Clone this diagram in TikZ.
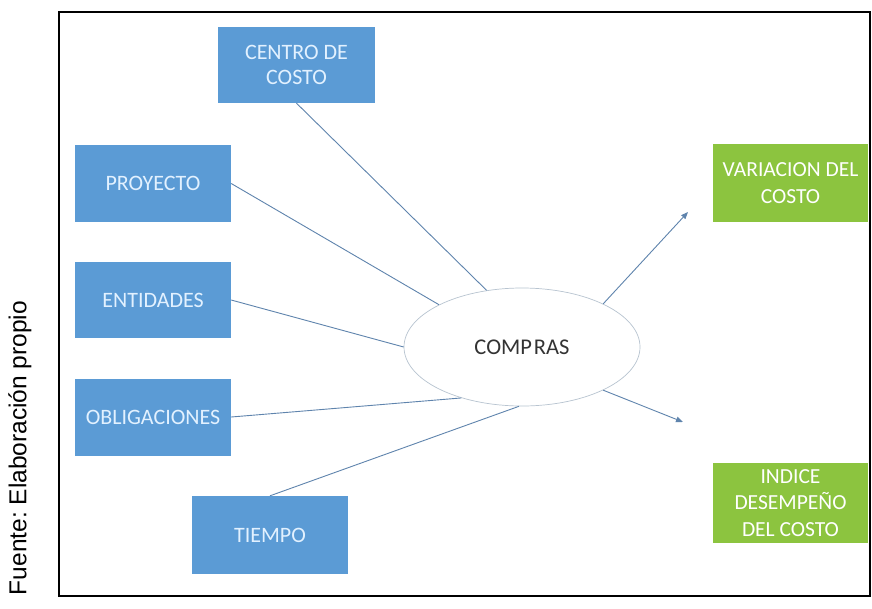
\documentclass[tikz,border=0pt]{standalone}
\usepackage{fontspec}
\setmainfont{Carlito}
\newfontfamily\arialfont{Liberation Sans}
\usetikzlibrary{arrows.meta,shapes.geometric}
\frenchspacing

\definecolor{boxblue}{HTML}{5B9BD5}
\definecolor{boxgreen}{HTML}{8CC43F}
\definecolor{bluetext}{HTML}{E2F1FF}
\definecolor{linkcol}{HTML}{5F84AD}
\definecolor{ovalline}{HTML}{B8C4D0}

\tikzset{
  bluebox/.style={fill=boxblue, draw=none, minimum width=156pt, minimum height=77pt,
    inner sep=0pt, text=bluetext, font=\fontsize{22}{24.5}\selectfont, align=center},
  greenbox/.style={fill=boxgreen, draw=none, minimum width=155pt, minimum height=78pt,
    inner sep=0pt, text=white, font=\fontsize{21.5}{26.5}\selectfont, align=center},
  link/.style={draw=linkcol, line width=0.9pt},
  arrowlink/.style={link, -{Triangle[length=7pt,width=5.5pt]}},
}

\begin{document}
\begin{tikzpicture}[x=1pt, y={(0pt,-1pt)}]
  \useasboundingbox (0,0) rectangle (872,608);
  \fill[white] (0,0) rectangle (872,608);

  % outer frame
  \draw[line width=1.4pt] (59,12) rectangle (870,596);

  % source note
  \node[rotate=90, font=\arialfont\fontsize{24.5}{28}\selectfont, anchor=center]
    (fuente) at (20,448) {Fuente: Elaboración propio};

  % input boxes
  \node[bluebox, minimum width=157pt, minimum height=76pt] (centro) at (296.5,65) {CENTRO DE\\COSTO};
  \node[bluebox] (proyecto) at (153,183.5) {PROYECTO};
  \node[bluebox, minimum height=76pt] (entidades) at (153,300) {ENTIDADES};
  \node[bluebox] (oblig) at (153,417) {OBLIGACIONES};
  \node[bluebox, minimum height=78pt] (tiempo) at (270,535) {TIEMPO};

  % output boxes
  \node[greenbox] (variacion) at (790.5,183) {VARIACION DEL\\COSTO};
  \node[greenbox, minimum height=80pt] (indice) at (790.5,503) {INDICE\\DESEMPEÑO\\DEL COSTO};

  % central process
  \node[ellipse, draw=ovalline, line width=0.7pt, fill=white,
        minimum width=236pt, minimum height=118pt, inner sep=0pt,
        text=black!80, font=\fontsize{22.5}{25}\selectfont] (compras) at (522,347) {COMP\kern2pt RAS};

  % connectors into the process
  \draw[link] (centro.south) -- (compras.122);
  \draw[link] (proyecto.east) -- (compras.153);
  \draw[link] (entidades.east) -- (compras.180);
  \draw[link] (oblig.east) -- (compras.220);
  \draw[link] (tiempo.north) -- (compras.267);

  % connectors out of the process
  \coordinate (outA) at (688,212);
  \coordinate (outB) at (683,422);
  \draw[arrowlink] (compras.28) -- (outA);
  \draw[arrowlink] (compras.-28) -- (outB);
\end{tikzpicture}
\end{document}
